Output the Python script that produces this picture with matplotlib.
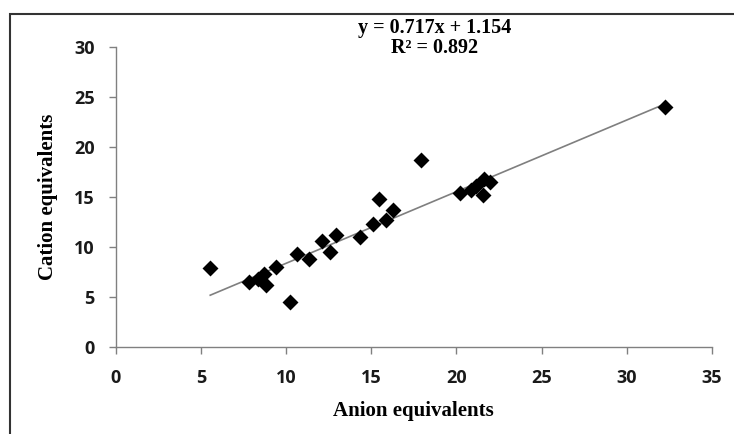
import numpy as np
import matplotlib.pyplot as plt
from matplotlib.patches import Rectangle

# anion / cation equivalents
anion = [5.55, 7.85, 8.35, 8.70, 8.82, 9.40, 10.26, 10.62, 11.32, 12.12, 12.57, 12.92,
         14.33, 15.11, 15.46, 15.89, 16.25, 17.95, 20.23, 20.88, 21.17, 21.60, 21.95,
         21.56, 32.22]
cation = [7.88, 6.45, 6.80, 7.25, 6.15, 7.98, 4.45, 9.22, 8.75, 10.52, 9.45, 11.12,
          11.00, 12.22, 14.80, 12.65, 13.65, 18.65, 15.38, 15.70, 16.10, 16.75, 16.45,
          15.20, 23.98]
slope, intercept = 0.717, 1.154
r2 = 0.892

fig = plt.figure(figsize=(7.34, 4.34), dpi=100)
ax = fig.add_axes([0.1576, 0.2016, 0.8124, 0.6908])

# outer chart frame (cut off at right and bottom)
top = 1 - 14 / 434
fig.patches.append(Rectangle((10 / 734, -0.2), 1.2, top + 0.2,
                             transform=fig.transFigure, fill=False,
                             edgecolor='#333333', linewidth=1.5))

ax.scatter(anion, cation, marker='D', s=66, color='black', zorder=3, linewidths=0)

xs = np.array([min(anion), max(anion)])
ax.plot(xs, slope * xs + intercept, color='#7f7f7f', linewidth=1.2, zorder=2)

ax.set_xlim(0, 35)
ax.set_ylim(0, 30)
ax.set_xticks(np.arange(0, 36, 5))
ax.set_yticks(np.arange(0, 31, 5))

for s in ['top', 'right']:
    ax.spines[s].set_visible(False)
for s in ['left', 'bottom']:
    ax.spines[s].set_color('#808080')
    ax.spines[s].set_linewidth(1.0)

ax.tick_params(axis='both', direction='out', length=5, width=1.0, color='#808080',
               labelsize=13, pad=11)
ax.tick_params(axis='y', pad=10)
for lab in ax.get_xticklabels() + ax.get_yticklabels():
    lab.set_fontfamily('Open Sans')
    lab.set_fontweight('bold')
    lab.set_color('#1a1a1a')

ax.set_xlabel('Anion equivalents', fontfamily='Liberation Serif', fontweight='bold',
              fontsize=15, labelpad=10)
ax.set_ylabel('Cation equivalents', fontfamily='Liberation Serif', fontweight='bold',
              fontsize=15, labelpad=12)

fig.text(435 / 734, 1 - 28 / 434, 'y = 0.717x + 1.154', ha='center', va='center',
         fontfamily='Liberation Serif', fontweight='bold', fontsize=14.5)
fig.text(435 / 734, 1 - 48 / 434, 'R\u00b2 = 0.892', ha='center', va='center',
         fontfamily='Liberation Serif', fontweight='bold', fontsize=14.5)

fig.savefig('out.png', dpi=100)
